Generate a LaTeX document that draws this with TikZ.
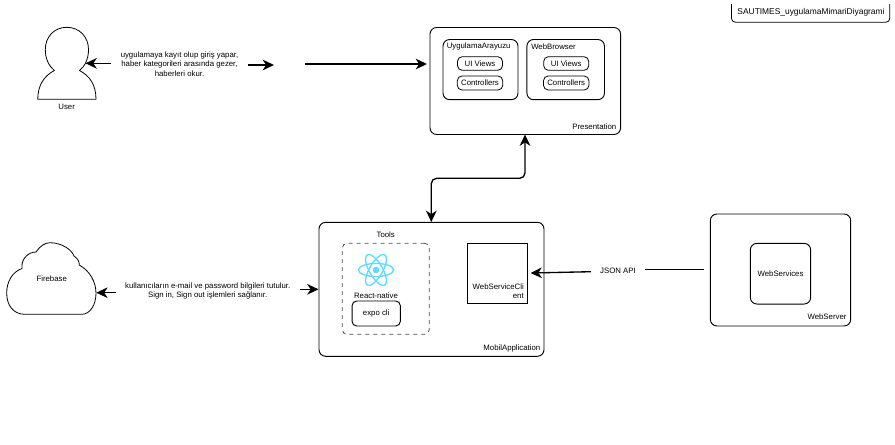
\documentclass[tikz,border=0pt]{standalone}
\usepackage{fontspec}
\setmainfont{Liberation Sans}
\usetikzlibrary{arrows.meta}
\tikzset{
  boxrounded/.style={draw,line width=0.7pt,rounded corners=5pt,inner sep=0pt},
  boxsmall/.style={draw,line width=0.6pt,rounded corners=3.5pt,inner sep=0pt},
  txt/.style={inner sep=0.75pt,font=\fontsize{5.85}{7.1}\selectfont,align=center},
  flow/.style={line width=1pt,-{Stealth[length=8.5pt,width=8pt,inset=2.6pt]}},
  reactline/.style={color={rgb, 255:red, 97; green, 218; blue, 251 },line width=1pt}
}
\begin{document}
\begin{tikzpicture}[x=0.75pt,y=0.75pt,yscale=-1,xscale=1]
\useasboundingbox (0,0) rectangle (895,444);

%Shape: title box, its top is open
\draw [line width=0.6pt,rounded corners=3pt] (731.5,4) -- (731.5,22.3) -- (889.8,22.3) -- (889.8,4) ;
\node (titlelabel) at (811,12) [txt,font=\fontsize{6.3}{7}\selectfont] {SAUTIMES\_uygulamaMimariDiyagrami};

%Shape: User
\draw [line width=0.6pt] (37.7,99.3) .. controls (38,85) and (44,76) .. (54.3,70.5) .. controls (49,66) and (45.3,59) .. (45.3,49.5) .. controls (45.3,37) and (54,27.3) .. (66.8,27.3) .. controls (79.5,27.3) and (88.5,37) .. (88.5,49.5) .. controls (88.5,59) and (85,66) .. (79.5,70.5) .. controls (90,76) and (96,85) .. (96,99.3) -- cycle ;
\node (userlabel) at (66.7,106.5) [txt] {User};
\coordinate (usertip) at (85.5,63.3);
\node (usertext) at (179.5,64) [txt,inner sep=6.75pt] {uygulamaya kayıt olup giriş yapar,\\haber kategorileri arasında gezer,\\haberleri okur.};
\coordinate (gapleft) at (274,65);
\coordinate (gapright) at (304.5,64);

%Shape: Presentation
\node (presentation) at (525.3,81) [boxrounded,minimum width=190.6*0.75pt,minimum height=107*0.75pt] {};
\node (presentationlabel) at (617.5,126.3) [txt,anchor=east] {Presentation};
\node (arayuzu) at (480.5,69.6) [boxrounded,minimum width=75*0.75pt,minimum height=60.2*0.75pt] {};
\node (arayuzulabel) at (445.5,46.5) [txt,anchor=west] {UygulamaArayuzu};
\node (browser) at (565.7,69.6) [boxrounded,minimum width=77.6*0.75pt,minimum height=60.2*0.75pt] {};
\node (browserlabel) at (530,46.5) [txt,anchor=west] {WebBrowser};
\node (viewsa) at (480,63.5) [txt,boxsmall,minimum width=45*0.75pt,minimum height=13.6*0.75pt] {UI Views};
\node (controllersa) at (480,83) [txt,boxsmall,minimum width=45.4*0.75pt,minimum height=14*0.75pt] {Controllers};
\node (viewsb) at (566.2,63.5) [txt,boxsmall,minimum width=45*0.75pt,minimum height=13.6*0.75pt] {UI Views};
\node (controllersb) at (566.2,83) [txt,boxsmall,minimum width=45.4*0.75pt,minimum height=14*0.75pt] {Controllers};

%Shape: MobilApplication
\node (mobil) at (431.5,289.3) [boxrounded,minimum width=225*0.75pt,minimum height=134*0.75pt] {};
\node (mobillabel) at (541.5,348) [txt,anchor=east] {MobilApplication};
\node (toolslabel) at (385.7,235) [txt] {Tools};
\node (tools) at (385.8,288.8) [boxsmall,dashed,draw=black!70,minimum width=87*0.75pt,minimum height=91*0.75pt] {};
\node (reactlabel) at (376,295.5) [txt] {React-native};
\node (expo) at (376.2,313.5) [txt,boxsmall,line width=0.7pt,minimum width=48.3*0.75pt,minimum height=25*0.75pt] {expo cli};
\node (client) at (497.5,273.5) [draw,line width=0.8pt,minimum width=59.6*0.75pt,minimum height=59.6*0.75pt,inner sep=0pt] {};
\node (clientlabel) at (525,291) [txt,anchor=east,align=right] {WebServiceCli\\ent};

%Shape: React logo
\coordinate (reactcenter) at (376,270);
\foreach \ang in {0,60,120}
  \draw [reactline,rotate around={\ang:(reactcenter)}] (reactcenter) ellipse [x radius=17.5,y radius=6.6];
\fill [color={rgb, 255:red, 97; green, 218; blue, 251 }] (reactcenter) circle [radius=3.3];

%Shape: WebServer
\node (webserver) at (780.5,270) [boxrounded,minimum width=140.4*0.75pt,minimum height=112*0.75pt] {};
\node (webserverlabel) at (847.7,317) [txt,anchor=east] {WebServer};
\node (webservices) at (780.5,273.7) [txt,boxrounded,minimum width=60.4*0.75pt,minimum height=60.7*0.75pt] {WebServices};

%Shape: Firebase cloud
\draw [line width=0.6pt] (25,314.3) .. controls (13,314.3) and (6.7,305) .. (6.7,293) .. controls (6.7,282) and (12,272) .. (22,268.5) .. controls (21,259) and (28,252) .. (36,252) .. controls (40,246) and (45,242.7) .. (50,242.7) .. controls (62,242.7) and (72,250) .. (74,256) .. controls (77,258) and (79.5,261) .. (79.3,265) .. controls (90,271) and (96,282) .. (96,293.3) .. controls (96,305) and (90,314.3) .. (81.7,314.3) -- cycle ;
\node (firebase) at (51.7,278.3) [txt] {Firebase};
\coordinate (firebasetip) at (96.3,292.7);
\node (firebasetext) at (207.7,291.2) [txt,inner sep=7pt] {kullanıcıların e-mail ve password bilgileri tutulur.\\Sign in, Sign out işlemleri sağlanır.};
\coordinate (mobiltip) at (318.5,289.3);

%Straight Lines
\draw [flow] (usertext.west |- usertip) -- (usertip) ;
\draw [flow] (usertext.east |- gapleft) -- (gapleft) ;
\draw [flow,shorten >=1.9pt] (gapright) -- (presentation.west |- gapright) ;
\draw [flow] (firebasetext.west |- firebasetip) -- (firebasetip) ;
\draw [flow] (firebasetext.east |- mobiltip) -- (mobiltip) ;

%Double arrow between Presentation and MobilApplication
\coordinate (presentationport) at (525,134.5);
\coordinate (mobilport) at (431.3,222);
\draw [line width=1pt,rounded corners=4pt,{Stealth[length=8.5pt,width=8pt,inset=2.6pt]}-{Stealth[length=8.5pt,width=8pt,inset=2.6pt]}] (presentationport) -- (525,178.3) -- (431.3,178.3) -- (mobilport) ;

%JSON API line
\coordinate (serverport) at (704,269.7);
\coordinate (clienttip) at (530.5,273);
\node (jsonapi) at (618,270.5) [txt,minimum width=54*0.75pt] {JSON API};
\draw [line width=1pt] (serverport) -- (jsonapi.east |- serverport) ;
\coordinate (jsonleft) at (591,271.7);
\draw [flow] (jsonleft) -- (clienttip) ;
\end{tikzpicture}
\end{document}
